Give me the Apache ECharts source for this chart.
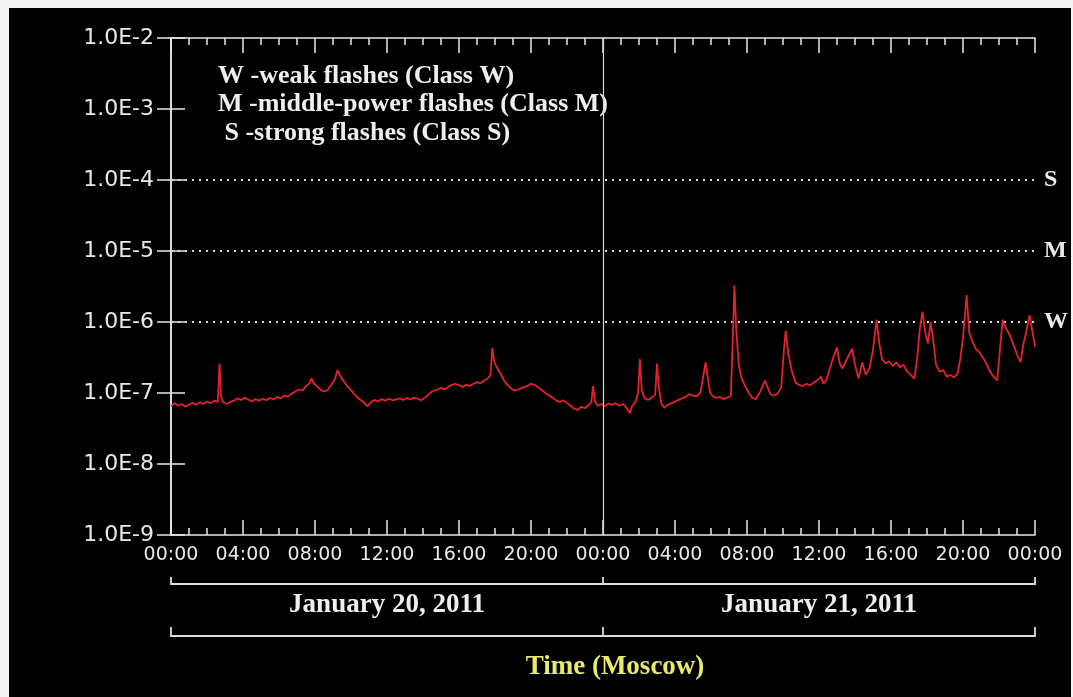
<!DOCTYPE html>
<html>
<head>
<meta charset="utf-8">
<script src="https://cdn.jsdelivr.net/npm/echarts@6/dist/echarts.min.js"></script>
<style>
html,body{margin:0;padding:0;background:#f4f4f4;}
#wrap{position:absolute;left:0;top:0;width:1073px;height:697px;background:#f4f4f4;}
#chart{position:absolute;left:9px;top:8px;width:1062px;height:689px;background:#000;}
</style>
</head>
<body>
<div id="wrap"><div id="chart"></div></div>
<script>
// hours since 00:00 Jan 20, 2011 (Moscow) and X-ray flux (W/m^2)
const hours = [
0.0,0.2,0.4,0.6,0.8,1.0,1.2,1.4,1.6,1.8,2.0,2.2,2.4,2.6,2.7,2.78,2.9,3.1,3.3,3.5,3.7,3.9,4.1,4.3,4.5,4.7,4.9,5.1,5.3,5.5,5.7,5.9,6.1,6.3,6.5,6.7,6.9,7.1,7.3,7.5,7.7,7.8,7.95,8.1,8.3,8.5,8.7,8.9,9.1,9.25,9.4,9.6,9.8,10.0,10.2,10.4,10.6,10.8,10.9,11.1,11.3,11.5,11.7,11.9,12.1,12.3,12.5,12.7,12.9,13.1,13.3,13.5,13.7,13.9,14.1,14.3,14.5,14.8,15.0,15.2,15.4,15.6,15.8,16.0,16.2,16.4,16.6,16.8,17.0,17.2,17.4,17.6,17.75,17.85,17.95,18.1,18.3,18.5,18.7,18.9,19.1,19.3,19.5,19.8,20.0,20.2,20.4,20.6,20.8,21.0,21.2,21.4,21.6,21.8,22.0,22.2,22.4,22.6,22.8,23.0,23.2,23.35,23.45,23.55,23.7,23.9,
24.1,24.3,24.5,24.7,24.9,25.1,25.3,25.5,25.6,25.8,25.95,26.05,26.15,26.3,26.5,26.7,26.9,27.0,27.1,27.25,27.4,27.6,27.8,28.0,28.2,28.4,28.6,28.8,29.0,29.2,29.4,29.55,29.7,29.8,29.95,30.1,30.3,30.5,30.7,30.9,31.1,31.2,31.3,31.4,31.55,31.7,31.9,32.1,32.3,32.5,32.7,32.9,33.0,33.15,33.3,33.5,33.7,33.9,34.05,34.15,34.3,34.5,34.7,34.9,35.1,35.3,35.5,35.7,35.9,36.1,36.25,36.4,36.6,36.8,37.0,37.15,37.3,37.5,37.7,37.85,38.0,38.2,38.4,38.6,38.8,39.0,39.2,39.35,39.5,39.7,39.9,40.1,40.3,40.5,40.7,40.9,41.1,41.3,41.45,41.6,41.75,41.9,42.05,42.2,42.35,42.5,42.7,42.9,43.1,43.3,43.5,43.7,43.85,44.0,44.2,44.35,44.5,44.7,44.9,45.1,45.3,45.5,45.7,45.9,46.05,46.2,46.4,46.6,46.8,47.0,47.2,47.35,47.5,47.7,47.85,48.0
];
const flux = [
6.5e-8,7.2e-8,6.6e-8,7.0e-8,6.4e-8,6.9e-8,7.3e-8,6.8e-8,7.4e-8,7.0e-8,7.6e-8,7.2e-8,7.8e-8,7.5e-8,2.6e-7,9.0e-8,7.4e-8,7.0e-8,7.5e-8,7.8e-8,8.4e-8,8.0e-8,8.6e-8,8.1e-8,7.6e-8,8.2e-8,7.8e-8,8.3e-8,7.9e-8,8.5e-8,8.1e-8,8.8e-8,8.4e-8,9.2e-8,8.9e-8,9.8e-8,1.05e-7,1.12e-7,1.08e-7,1.25e-7,1.38e-7,1.6e-7,1.35e-7,1.25e-7,1.12e-7,1.05e-7,1.1e-7,1.3e-7,1.55e-7,2.1e-7,1.75e-7,1.45e-7,1.25e-7,1.1e-7,9.5e-8,8.5e-8,7.8e-8,7.0e-8,6.5e-8,7.4e-8,8.0e-8,7.6e-8,8.2e-8,7.8e-8,8.3e-8,7.9e-8,8.1e-8,8.4e-8,8.0e-8,8.5e-8,8.1e-8,8.6e-8,8.3e-8,7.9e-8,8.6e-8,9.5e-8,1.05e-7,1.12e-7,1.18e-7,1.12e-7,1.22e-7,1.3e-7,1.35e-7,1.28e-7,1.22e-7,1.3e-7,1.25e-7,1.35e-7,1.42e-7,1.38e-7,1.5e-7,1.6e-7,1.8e-7,4.3e-7,2.8e-7,2.3e-7,1.9e-7,1.5e-7,1.3e-7,1.15e-7,1.08e-7,1.12e-7,1.18e-7,1.25e-7,1.35e-7,1.3e-7,1.2e-7,1.1e-7,1.0e-7,9.2e-8,8.6e-8,7.8e-8,7.5e-8,7.9e-8,7.2e-8,6.6e-8,6.0e-8,5.8e-8,6.4e-8,6.1e-8,6.8e-8,7.4e-8,1.25e-7,7.6e-8,6.6e-8,7.0e-8,
6.5e-8,7.1e-8,6.8e-8,7.2e-8,6.6e-8,7.0e-8,6.2e-8,5.2e-8,6.4e-8,7.5e-8,1.0e-7,3.0e-7,1.1e-7,8.5e-8,8.0e-8,8.6e-8,9.5e-8,2.6e-7,1.2e-7,7.0e-8,6.2e-8,6.8e-8,7.2e-8,7.6e-8,8.0e-8,8.4e-8,8.9e-8,9.6e-8,9.2e-8,9.0e-8,1.0e-7,1.6e-7,2.7e-7,1.8e-7,1.0e-7,9.0e-8,8.5e-8,8.8e-8,8.2e-8,8.6e-8,9.0e-8,5.0e-7,3.3e-6,8.0e-7,2.4e-7,1.6e-7,1.25e-7,1.0e-7,8.5e-8,8.2e-8,1.0e-7,1.3e-7,1.5e-7,1.2e-7,9.6e-8,9.2e-8,9.8e-8,1.2e-7,4.0e-7,7.5e-7,3.5e-7,2.0e-7,1.4e-7,1.3e-7,1.25e-7,1.35e-7,1.28e-7,1.4e-7,1.5e-7,1.7e-7,1.35e-7,1.5e-7,2.2e-7,3.2e-7,4.4e-7,2.6e-7,2.2e-7,2.8e-7,3.6e-7,4.2e-7,2.5e-7,1.6e-7,2.7e-7,1.8e-7,2.2e-7,4.0e-7,1.07e-6,5.0e-7,3.0e-7,2.6e-7,2.8e-7,2.4e-7,2.7e-7,2.3e-7,2.5e-7,2.0e-7,1.8e-7,1.6e-7,3.0e-7,8.0e-7,1.4e-6,7.2e-7,5.0e-7,1.0e-6,5.5e-7,2.5e-7,2.0e-7,2.1e-7,1.7e-7,1.8e-7,1.65e-7,1.9e-7,3.0e-7,6.0e-7,2.4e-6,7.0e-7,5.5e-7,4.2e-7,3.8e-7,3.2e-7,2.6e-7,2.0e-7,1.7e-7,1.5e-7,4.0e-7,1.07e-6,8.0e-7,6.5e-7,4.8e-7,3.5e-7,2.7e-7,4.9e-7,7.0e-7,1.25e-6,7.5e-7,4.5e-7
];
const yTickLabels = ['1.0E-9','1.0E-8','1.0E-7','1.0E-6','1.0E-5','1.0E-4','1.0E-3','1.0E-2'];
const classLevels = [1e-6, 1e-5, 1e-4];
const classNames = ['W', 'M', 'S'];
const legendLines = ['W -weak flashes (Class W)', 'M -middle-power flashes (Class M)', ' S -strong flashes (Class S)'];
const dayLabels = ['January 20, 2011', 'January 21, 2011'];
const dayBounds = [0, 24, 48];
const xTitle = 'Time (Moscow)';

const chart = echarts.init(document.getElementById('chart'));
const data = hours.map((h, i) => [h, flux[i]]);
const expOf = v => Math.round(Math.log10(v));
const hh = v => { const h = Math.round(v) % 24; return (h < 10 ? '0' : '') + h + ':00'; };

const W = '#e8e8e8';
const gridL = 162, gridR = 35, gridT = 30, gridB = 162;
const xAxisBase = {
  type: 'value', min: 0, max: 48, interval: 4,
  axisLine: { lineStyle: { color: W, width: 1.5 } },
  axisTick: { show: true, inside: true, length: 15, lineStyle: { color: W, width: 1.5 } },
  minorTick: { show: true, splitNumber: 4, length: 7, lineStyle: { color: W, width: 1.5 } },
  splitLine: { show: false }
};
const yAxisBase = {
  type: 'log', logBase: 10, min: 1e-9, max: 1e-2, interval: 1,
  axisLine: { lineStyle: { color: W, width: 1.5 } },
  axisTick: { show: true, inside: true, length: 14, lineStyle: { color: W, width: 1.5 } },
  splitLine: { show: false }
};

const classSeries = classLevels.map(c => ({
  type: 'line', data: [[dayBounds[0], c], [dayBounds[2], c]], xAxisIndex: 0, yAxisIndex: 0,
  showSymbol: false, symbol: 'none', silent: true, z: 1,
  lineStyle: { color: '#d8d8d8', type: [2, 5], width: 1.8 }
}));

chart.setOption({
  backgroundColor: '#000',
  animation: false,
  grid: { left: gridL, right: gridR, top: gridT, bottom: gridB },
  xAxis: [
    Object.assign({}, xAxisBase, {
      position: 'bottom',
      axisLabel: { color: W, fontFamily: 'DejaVu Sans', fontSize: 19, margin: 11, formatter: hh }
    }),
    Object.assign({}, xAxisBase, { position: 'top', axisLabel: { show: false } })
  ],
  yAxis: [
    Object.assign({}, yAxisBase, {
      position: 'left',
      axisLabel: { color: W, fontFamily: 'DejaVu Sans', fontSize: 22, margin: 17,
        formatter: v => yTickLabels[expOf(v) + 9] || '' }
    }),
    Object.assign({}, yAxisBase, {
      position: 'right',
      axisLabel: { color: W, fontFamily: 'Liberation Serif', fontWeight: 'bold', fontSize: 24, margin: 9,
        formatter: v => { const i = classLevels.findIndex(c => expOf(c) === expOf(v)); return i >= 0 ? classNames[i] : ''; } }
    })
  ],
  series: classSeries.concat([{
    type: 'line', data: data, xAxisIndex: 0, yAxisIndex: 0,
    showSymbol: false, symbol: 'none', z: 3,
    lineStyle: { color: '#e3222c', width: 1.8 },
    markLine: {
      silent: true, symbol: 'none', label: { show: false },
      data: [{ xAxis: dayBounds[1], lineStyle: { color: '#d8d8d8', type: 'solid', width: 1.2 } }]
    }
  }])
});

// annotations below and inside the plot
const px = v => chart.convertToPixel({ xAxisIndex: 0 }, v);
const bx = dayBounds.map(px);
const yAxisPix = chart.convertToPixel({ yAxisIndex: 0 }, 1e-9);
const brY1 = yAxisPix + 49, brY2 = yAxisPix + 101;
const g = [];
const lineStyle = { stroke: '#dcdcdc', lineWidth: 1.8 };
[brY1, brY2].forEach((yy, k) => {
  const up = k === 0 ? 7 : 9;
  g.push({ type: 'polyline', shape: { points: [[bx[0], yy - up], [bx[0], yy], [bx[2], yy], [bx[2], yy - up]] }, style: lineStyle, silent: true });
  g.push({ type: 'line', shape: { x1: bx[1], y1: yy - up, x2: bx[1], y2: yy }, style: lineStyle, silent: true });
});
dayLabels.forEach((t, i) => {
  g.push({ type: 'text', x: (bx[i] + bx[i + 1]) / 2, y: brY1 + 21, style: {
    text: t, fill: '#eeeeee', font: 'bold 27px "Liberation Serif"', align: 'center', verticalAlign: 'middle' } });
});
g.push({ type: 'text', x: bx[1] + 12, y: brY2 + 31, style: {
  text: xTitle, fill: '#e9e96c', font: 'bold 27px "Liberation Serif"', align: 'center', verticalAlign: 'middle' } });
legendLines.forEach((t, i) => {
  g.push({ type: 'text', x: 209, y: 68 + i * 28.5, style: {
    text: t, fill: '#eeeeee', font: 'bold 26px "Liberation Serif"', align: 'left', verticalAlign: 'middle' } });
});
chart.setOption({ graphic: g });
</script>
</body>
</html>
